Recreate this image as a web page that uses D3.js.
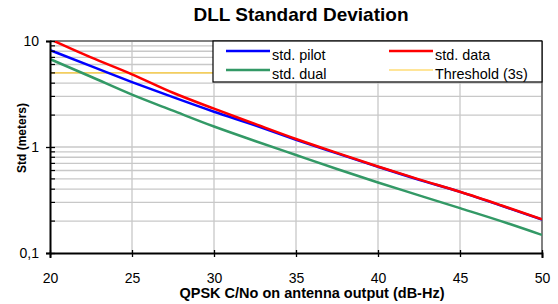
<!DOCTYPE html>
<html>
<head>
<meta charset="utf-8">
<script src="https://cdn.jsdelivr.net/npm/d3@7"></script>
<style>
  body { margin: 0; background: #fff; }
  text { font-family: Arial, 'Liberation Sans', sans-serif; }
</style>
</head>
<body>
<div id="chart"></div>
<script>
let width = 558
let height = 304
let margin = {top: 41, right: 16, bottom: 51, left: 50}

// values
const cno = [20, 22.5, 25, 27.5, 30, 32.5, 35, 37.5, 40, 42.5, 45, 47.5, 50]
const stdPilot = [8.2, 5.8, 4.1, 2.95, 2.15, 1.6, 1.17, 0.87, 0.65, 0.49, 0.377, 0.28, 0.207]
const stdData = [10.4, 7.0, 4.85, 3.25, 2.3, 1.65, 1.19, 0.88, 0.655, 0.495, 0.378, 0.282, 0.208]
const stdDual = [6.75, 4.6, 3.12, 2.2, 1.56, 1.14, 0.84, 0.62, 0.462, 0.35, 0.265, 0.2, 0.148]
const threshold = 5
const xTicks = [20, 25, 30, 35, 40, 45, 50]
const yTicks = [0.1, 1, 10]
const yTickLabels = ['0,1', '1', '10']

const series = [
    {name: 'std. pilot', values: stdPilot, color: '#0000ff'},
    {name: 'std. data', values: stdData, color: '#ff0000'},
    {name: 'std. dual', values: stdDual, color: '#339966'}
]

let innerW = width - margin.left - margin.right
let innerH = height - margin.top - margin.bottom

let svg = d3.select('#chart')
            .append('svg')
            .attr('width', width)
            .attr('height', height)

let xScale = d3.scaleLinear()
            .domain([20, 50])
            .range([0, innerW])

let yScale = d3.scaleLog()
            .domain([0.1, 10])
            .range([innerH, 0])

let g = svg.append('g')
            .attr('transform', 'translate(' + margin.left + ',' + margin.top + ')')

g.append('clipPath')
    .attr('id', 'clip')
    .append('rect')
    .attr('width', innerW)
    .attr('height', innerH)

// horizontal grid on every log step
let minor = []
for (let k = 0.1; k < 10; k *= 10) {
    for (let m = 1; m <= 9; m++) minor.push(+(k * m).toFixed(3))
}
g.selectAll('.hgrid')
    .data(minor.filter(d => d > 0.1))
    .enter()
    .append('line')
    .attr('class', 'hgrid')
    .attr('x1', 0)
    .attr('x2', innerW)
    .attr('y1', d => yScale(d))
    .attr('y2', d => yScale(d))
    .attr('stroke', '#c8c8c8')
    .attr('stroke-width', 1.3)

g.selectAll('.vgrid')
    .data(xTicks.slice(1, -1))
    .enter()
    .append('line')
    .attr('class', 'vgrid')
    .attr('x1', d => xScale(d))
    .attr('x2', d => xScale(d))
    .attr('y1', 0)
    .attr('y2', innerH)
    .attr('stroke', '#c8c8c8')
    .attr('stroke-width', 1.3)

// top and right frame
g.append('line')
    .attr('x1', 0).attr('x2', innerW).attr('y1', 0).attr('y2', 0)
    .attr('stroke', '#808080').attr('stroke-width', 2)
g.append('line')
    .attr('x1', innerW).attr('x2', innerW).attr('y1', 0).attr('y2', innerH)
    .attr('stroke', '#808080').attr('stroke-width', 2)

// threshold
g.append('line')
    .attr('x1', xScale(20))
    .attr('x2', xScale(50))
    .attr('y1', yScale(threshold))
    .attr('y2', yScale(threshold))
    .attr('stroke', '#ffcc33')
    .attr('stroke-width', 1.2)

let line = d3.line()
            .x((d, i) => xScale(cno[i]))
            .y(d => yScale(d))
            .curve(d3.curveMonotoneX)

g.append('g')
    .attr('clip-path', 'url(#clip)')
    .selectAll('path')
    .data(series)
    .enter()
    .append('path')
    .attr('d', d => line(d.values))
    .attr('fill', 'none')
    .attr('stroke', d => d.color)
    .attr('stroke-width', 2.5)

// axes
let xAxis = g.append('g')
    .attr('transform', 'translate(0,' + innerH + ')')
    .call(d3.axisBottom(xScale).tickValues(xTicks).tickSize(5).tickPadding(15).tickFormat(d => d))
xAxis.select('.domain').attr('stroke', '#000').attr('stroke-width', 2)
xAxis.selectAll('.tick line').attr('y1', -3).attr('y2', 4).attr('stroke-width', 1.3)
xAxis.selectAll('.tick text').style('font-size', '14px').attr('fill', '#000')

let yAxis = g.append('g')
    .call(d3.axisLeft(yScale).tickValues(yTicks).tickSize(4).tickPadding(7)
        .tickFormat((d, i) => yTickLabels[i]))
yAxis.select('.domain').attr('stroke', '#000').attr('stroke-width', 2)
yAxis.selectAll('.tick line').attr('x1', -4).attr('x2', 5).attr('stroke-width', 1.3)
yAxis.selectAll('.tick text').style('font-size', '14px').attr('fill', '#000')

g.selectAll('.ytick-minor')
    .data(minor.filter(d => yTicks.indexOf(d) < 0))
    .enter()
    .append('line')
    .attr('class', 'ytick-minor')
    .attr('x1', 0)
    .attr('x2', 5)
    .attr('y1', d => yScale(d))
    .attr('y2', d => yScale(d))
    .attr('stroke', '#000')
    .attr('stroke-width', 1.2)

// legend
let legend = g.append('g')
    .attr('transform', 'translate(' + (213 - margin.left) + ',0)')

legend.append('rect')
    .attr('width', innerW - (213 - margin.left))
    .attr('height', 41)
    .attr('fill', '#fff')
    .attr('stroke', '#000')
    .attr('stroke-width', 1.2)

const legendItems = [
    {name: 'std. pilot', color: '#0000ff', w: 2.5, x: 13, y: 10},
    {name: 'std. data', color: '#ff0000', w: 2.5, x: 176, y: 10},
    {name: 'std. dual', color: '#339966', w: 2.5, x: 13, y: 29},
    {name: 'Threshold (3s)', color: '#ffcc33', w: 1.2, x: 176, y: 29}
]

let items = legend.selectAll('.item')
    .data(legendItems)
    .enter()
    .append('g')
    .attr('class', 'item')
    .attr('transform', d => 'translate(' + d.x + ',' + d.y + ')')

items.append('line')
    .attr('x1', 0)
    .attr('x2', 44)
    .attr('stroke', d => d.color)
    .attr('stroke-width', d => d.w)

items.append('text')
    .attr('x', 46)
    .attr('y', 8.5)
    .style('font-size', '14.4px')
    .text(d => d.name)

// titles
svg.append('text')
    .attr('x', 301)
    .attr('y', 21)
    .attr('text-anchor', 'middle')
    .style('font-size', '19px')
    .style('font-weight', 'bold')
    .text('DLL Standard Deviation')

svg.append('text')
    .attr('x', 312)
    .attr('y', 298)
    .attr('text-anchor', 'middle')
    .style('font-size', '14.5px')
    .style('font-weight', 'bold')
    .text('QPSK C/No on antenna output (dB-Hz)')

svg.append('text')
    .attr('transform', 'translate(26,138) rotate(-90)')
    .attr('text-anchor', 'middle')
    .style('font-size', '12px')
    .style('font-weight', 'bold')
    .text('Std (meters)')
</script>
</body>
</html>
